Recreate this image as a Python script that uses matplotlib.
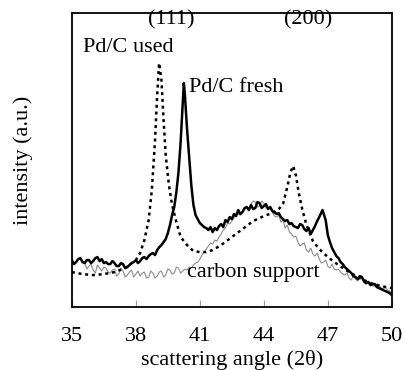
import matplotlib
matplotlib.use("Agg")
import matplotlib.pyplot as plt
import numpy as np

# ---------------- data ----------------
# Pd/C fresh (solid black)
fresh_angle = (list(np.round(np.linspace(35.0, 39.8, 49), 2))
               + [39.9, 40.0, 40.1, 40.2, 40.25, 40.3, 40.4, 40.5, 40.6, 40.7, 40.8, 40.9, 41.0]
               + list(np.round(np.linspace(41.1, 46.6, 56), 2))
               + [46.75, 46.9, 47.0]
               + list(np.round(np.linspace(47.1, 50.0, 30), 2)))
fresh_int = ([47, 43, 45, 48, 49, 45, 44, 47, 47, 44,
              46, 49, 50, 46, 48, 44, 45, 43, 43, 46,
              44, 41, 41, 44, 43, 39, 40, 42, 44, 45,
              47, 44, 46, 49, 50, 48, 51, 53, 54, 52,
              57, 60, 62, 65, 68, 74, 82, 92, 100]
             + [115, 135, 165, 205, 224, 212, 178, 150, 122, 102, 92, 88, 84]
             + [82, 80, 79, 77, 80, 75, 79, 77, 81, 83,
                80, 87, 85, 90, 88, 93, 91, 97, 93, 95,
                99, 100, 97, 102, 98, 99, 105, 104, 99, 101,
                103, 98, 100, 96, 95, 93, 94, 90, 88, 86,
                87, 83, 84, 81, 80, 79, 83, 82, 78, 76,
                79, 73, 77, 81, 86, 90]
             + [97, 87, 72]
             + [65, 59, 55, 51, 49, 45, 43, 40, 38, 36,
                34, 31, 30, 28, 31, 30, 26, 24, 25, 22,
                23, 23, 20, 19, 18, 17, 16, 15, 14, 12])

# Pd/C used (dotted)
used_angle = [35.0, 35.5, 36.0, 36.5, 37.0, 37.5, 38.0, 38.2, 38.4, 38.6,
              38.75, 38.9, 39.0, 39.09, 39.2, 39.3, 39.4, 39.55, 39.7, 39.9,
              40.1, 40.4, 40.7, 41.0, 41.3, 41.6, 42.0, 42.5, 43.0, 43.5,
              44.0, 44.4, 44.7, 44.9, 45.1, 45.25, 45.375, 45.5, 45.65, 45.8,
              46.0, 46.3, 46.6, 47.0, 47.5, 48.0, 48.5, 49.0, 49.5, 50.0]
used_int = [35, 33, 32, 33, 35, 39, 47, 54, 67, 87,
            117, 167, 212, 244, 227, 187, 152, 122, 102, 85,
            70, 62, 56, 55, 55, 57, 62, 70, 78, 86,
            91, 94, 98, 103, 120, 135, 141, 132, 113, 98,
            82, 66, 58, 50, 42, 35, 29, 24, 21, 19]

# carbon support (thin grey)
carbon_angle = list(np.round(np.linspace(35.6, 50.0, 145), 2))
carbon_int = [45, 38, 41, 43, 37, 34, 42, 39, 36, 40, 39, 35, 34, 37, 38, 31, 33, 39, 36, 30,
              32, 35, 37, 30, 33, 36, 31, 34, 35, 29, 30, 36, 34, 29, 31, 35, 36, 30, 32, 38,
              37, 33, 34, 40, 39, 34, 36, 38, 37, 40, 39, 42, 44, 45, 48, 52, 55, 58, 61, 64,
              63, 67, 66, 70, 73, 77, 79, 84, 83, 86, 89, 94, 93, 92, 96, 98, 100, 97, 103, 106,
              105, 100, 101, 106, 104, 99, 98, 101, 95, 91, 90, 92, 85, 87, 79, 82, 75, 73, 70, 71,
              65, 61, 63, 64, 57, 55, 59, 53, 51, 54, 48, 44, 45, 47, 41, 39, 43, 38, 37, 38,
              35, 33, 32, 34, 29, 27, 31, 28, 26, 29, 28, 24, 23, 26, 24, 21, 21, 23, 22, 19,
              18, 20, 17, 16, 15]

xticks = [35, 38, 41, 44, 47, 50]

# ---------------- plot ----------------
plt.rcParams['font.family'] = ['Liberation Serif', 'DejaVu Serif']

fig = plt.figure(figsize=(4.06, 3.70), dpi=100)
ax = fig.add_axes([0.177, 0.170, 0.788, 0.795])

ax.plot(carbon_angle, carbon_int, color='#8c8c8c', lw=0.8, zorder=2)
ax.plot(used_angle, used_int, color='black', lw=1.8, linestyle=(0, (1.2, 1.5)), zorder=3)
ax.plot(fresh_angle, fresh_int, color='black', lw=1.8, zorder=4)

ax.set_xlim(35, 50)
ax.set_ylim(0, 294)
ax.set_xticks(xticks)
ax.set_xticklabels([str(t) for t in xticks], fontsize=16)
ax.tick_params(axis='x', direction='in', length=5, width=0.8, color='#999999', pad=14)
ax.set_yticks([])
for s in ax.spines.values():
    s.set_linewidth(1.3)

ax.set_xlabel('scattering angle (2θ)', fontsize=16, labelpad=3)
ax.set_ylabel('intensity (a.u.)', fontsize=16, labelpad=28)

ax.text(39.67, 297, '(111)', fontsize=16, ha='center', va='top', zorder=1)
ax.text(46.1, 297, '(200)', fontsize=16, ha='center', va='top', zorder=1)
ax.text(35.5, 259, 'Pd/C used', fontsize=16, ha='left', va='center')
ax.text(40.5, 219, 'Pd/C fresh', fontsize=16, ha='left', va='center')
ax.text(40.4, 35, 'carbon support', fontsize=16, ha='left', va='center')

fig.savefig('out.png', dpi=100)
